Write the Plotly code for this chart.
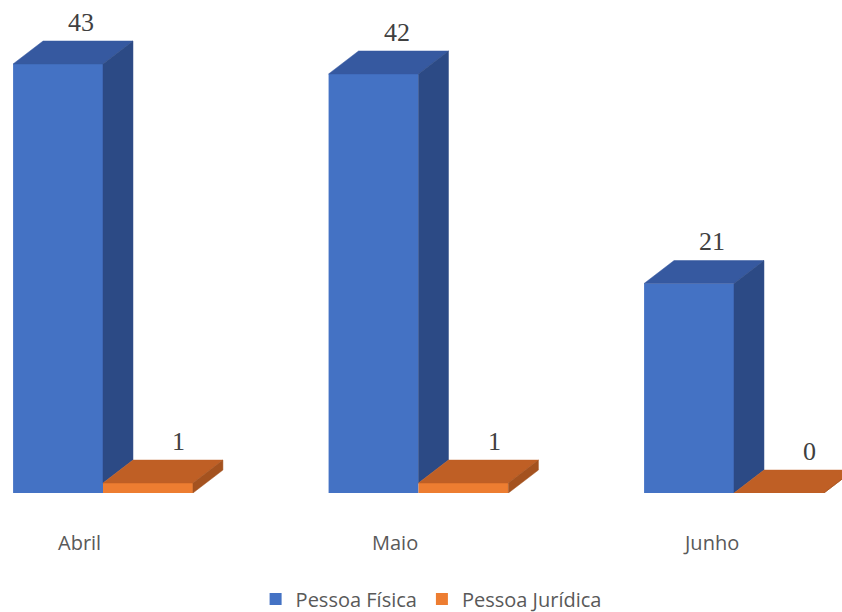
import plotly.graph_objects as go

# ---- data ----
categories = ["Abril", "Maio", "Junho"]
series_names = ["Pessoa Física", "Pessoa Jurídica"]
pessoa_fisica = [43, 42, 21]
pessoa_juridica = [1, 1, 0]

# ---- style ----
BLUE_FRONT, BLUE_TOP, BLUE_SIDE = "#4472C4", "#3659A0", "#2C4A85"
ORANGE_FRONT, ORANGE_TOP, ORANGE_SIDE = "#ED7D31", "#BF5F25", "#A4521F"
BAR_W = 0.285      # width of each bar (category units)
DX = 0.095         # 3D depth, horizontal (category units)
DY = 2.3           # 3D depth, vertical (value units)
LABEL_GAP = 1.9

xs = list(range(len(categories)))

fig = go.Figure()

# front faces
fig.add_trace(go.Bar(x=xs, y=pessoa_fisica, width=BAR_W, offset=-BAR_W,
                     marker=dict(color=BLUE_FRONT, line=dict(width=0)),
                     name=series_names[0], hoverinfo="skip"))
fig.add_trace(go.Bar(x=xs, y=pessoa_juridica, width=BAR_W, offset=0,
                     marker=dict(color=ORANGE_FRONT, line=dict(width=0)),
                     name=series_names[1], hoverinfo="skip"))


def poly_trace(polys, color):
    px, py = [], []
    for pts in polys:
        for (a, b) in pts:
            px.append(a)
            py.append(b)
        px.append(pts[0][0])
        py.append(pts[0][1])
        px.append(None)
        py.append(None)
    return go.Scatter(x=px, y=py, mode="lines", fill="toself", fillcolor=color,
                      line=dict(color=color, width=0.5), showlegend=False,
                      hoverinfo="skip")


blue_top, blue_side, orange_top, orange_side = [], [], [], []
for i, vb, vo in zip(xs, pessoa_fisica, pessoa_juridica):
    blue_top.append([(i - BAR_W, vb), (i - BAR_W + DX, vb + DY), (i + DX, vb + DY), (i, vb)])
    blue_side.append([(i, vo), (i + DX, vo + DY), (i + DX, vb + DY), (i, vb)])
    orange_top.append([(i, vo), (i + DX, vo + DY), (i + BAR_W + DX, vo + DY), (i + BAR_W, vo)])
    orange_side.append([(i + BAR_W, 0), (i + BAR_W + DX, DY), (i + BAR_W + DX, vo + DY), (i + BAR_W, vo)])

fig.add_trace(poly_trace(blue_top, BLUE_TOP))
fig.add_trace(poly_trace(blue_side, BLUE_SIDE))
fig.add_trace(poly_trace(orange_top, ORANGE_TOP))
fig.add_trace(poly_trace(orange_side, ORANGE_SIDE))

annotations = []
for i, vb, vo in zip(xs, pessoa_fisica, pessoa_juridica):
    annotations.append(dict(x=i - BAR_W / 2 + 0.073, y=vb + DY + LABEL_GAP, text=str(vb),
                            showarrow=False, xanchor="center", yanchor="middle",
                            font=dict(family="Liberation Serif", size=26, color="#404040")))
    annotations.append(dict(x=i + BAR_W / 2 + 0.098, y=vo + DY + LABEL_GAP, text=str(vo),
                            showarrow=False, xanchor="center", yanchor="middle",
                            font=dict(family="Liberation Serif", size=26, color="#404040")))
    annotations.append(dict(x=i - 0.073, y=-0.1014, yref="paper", text=categories[i],
                            showarrow=False, xanchor="center", yanchor="middle",
                            font=dict(family="Open Sans", size=20, color="#595959")))

fig.update_layout(
    width=842, height=612,
    margin=dict(l=0, r=0, t=0, b=119, autoexpand=False),
    paper_bgcolor="white", plot_bgcolor="white",
    barmode="overlay",
    xaxis=dict(range=[-0.3265, 2.3423], showgrid=False, zeroline=False,
               showticklabels=False, showline=False, fixedrange=True),
    yaxis=dict(range=[0, 49.41], showgrid=False, zeroline=False,
               showticklabels=False, showline=False, fixedrange=True),
    legend=dict(orientation="h", x=0.512, xanchor="center", y=-0.215, yanchor="middle",
                font=dict(family="Open Sans", size=20, color="#595959"),
                traceorder="normal"),
    annotations=annotations,
    showlegend=True,
)

fig.write_html(
    "out.html",
    config={"displayModeBar": False, "staticPlot": True},
    post_script=(
        "document.documentElement.style.margin='0';"
        "document.body.style.margin='0';"
        "document.body.style.overflow='hidden';"
        "var d=document.getElementById('{plot_id}');"
        "d.style.position='fixed';d.style.top='0';d.style.left='0';"
    ),
)
